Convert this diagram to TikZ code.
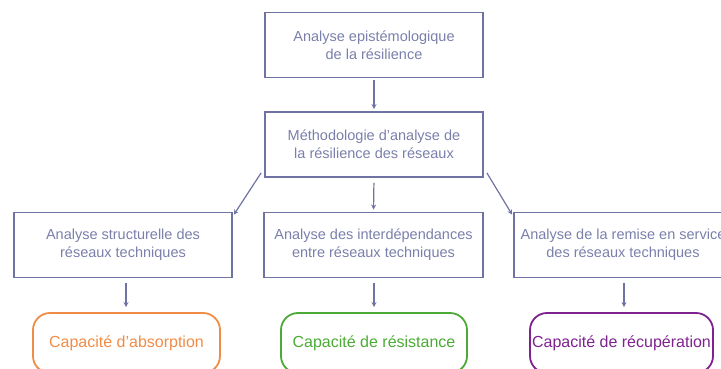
\documentclass[tikz,border=0pt]{standalone}
\usepackage{fontspec}
\setmainfont{Liberation Sans}
\usetikzlibrary{arrows.meta}
\definecolor{bline}{HTML}{6E73A3}
\definecolor{btext}{HTML}{7A7FAB}
\definecolor{corange}{HTML}{F08C46}
\definecolor{cgreen}{HTML}{4CAA36}
\definecolor{cpurple}{HTML}{7E2290}
\begin{document}
\begin{tikzpicture}[x=1pt,y=-1pt,
  box/.style={draw=bline,line width=1.8pt,text=btext,minimum width=218pt,minimum height=65pt,align=center,font=\fontsize{14.5}{18}\selectfont,inner sep=0pt},
  cap/.style={draw=#1,text=#1,line width=1.8pt,rounded corners=17pt,minimum height=60pt,font=\fontsize{16}{19}\selectfont,inner sep=0pt},
  arr/.style={draw=bline,line width=1.2pt,-{Stealth[length=5pt,width=5pt]}}]
\useasboundingbox (0,0) rectangle (721,369);
\clip (0,0) rectangle (721,369);
\node[box] (t) at (374,45) {Analyse epistémologique\\de la résilience};
\node[box] (m) at (374,144.5) {Méthodologie d'analyse de\\la résilience des réseaux};
\node[box] (l) at (123,245) {Analyse structurelle des\\réseaux techniques};
\node[box,minimum width=219pt] (c) at (373.5,245) {Analyse des interdépendances\\entre réseaux techniques};
\node[box] (r) at (623,245) {Analyse de la remise en service\\des réseaux techniques};
\node[cap=corange,minimum width=187pt] (ca) at (126.5,343) {Capacité d'absorption};
\node[cap=cgreen,minimum width=186pt] (cr) at (374,343) {Capacité de résistance};
\node[cap=cpurple,minimum width=183pt] (cp) at (621.5,343) {Capacité de récupération};
\draw[arr,shorten <=2pt,shorten >=2pt] (t.south) -- (m.north);
\draw[arr,shorten <=5pt,shorten >=2pt] (m.south) -- (c.north);
\draw[arr] ([xshift=-3pt,yshift=5pt]m.south west) -- ([xshift=1pt,yshift=-3pt]l.north east);
\draw[arr] ([xshift=3pt,yshift=5pt]m.south east) -- ([xshift=-1pt,yshift=-3pt]r.north west);
\draw[arr,shorten <=5pt,shorten >=5pt] ([xshift=3pt]l.south) -- ([xshift=3pt]l.south |- ca.north);
\draw[arr,shorten <=5pt,shorten >=5pt] ([xshift=0.5pt]c.south) -- ([xshift=0.5pt]c.south |- cr.north);
\draw[arr,shorten <=5pt,shorten >=5pt] ([xshift=1pt]r.south) -- ([xshift=1pt]r.south |- cp.north);
\end{tikzpicture}
\end{document}
